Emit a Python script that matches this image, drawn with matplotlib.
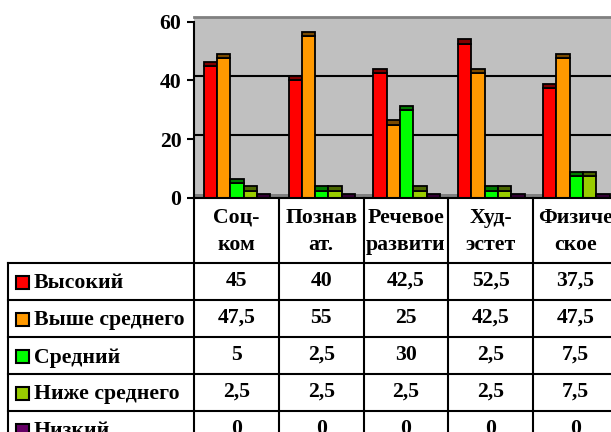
import matplotlib
matplotlib.use("Agg")
import matplotlib.pyplot as plt
from matplotlib.patches import Rectangle

categories_line1 = ["Соц-", "Познав", "Речевое", "Худ-", "Физиче"]
categories_line2 = ["ком", "ат.", "развити", "эстет", "ское"]
series_names = ["Высокий", "Выше среднего", "Средний", "Ниже среднего", "Низкий"]
values = [
    [45, 40, 42.5, 52.5, 37.5],
    [47.5, 55, 25, 42.5, 47.5],
    [5, 2.5, 30, 2.5, 7.5],
    [2.5, 2.5, 2.5, 2.5, 7.5],
    [0, 0, 0, 0, 0],
]
value_labels = [
    ["45", "40", "42,5", "52,5", "37,5"],
    ["47,5", "55", "25", "42,5", "47,5"],
    ["5", "2,5", "30", "2,5", "7,5"],
    ["2,5", "2,5", "2,5", "2,5", "7,5"],
    ["0", "0", "0", "0", "0"],
]
front_colors = ["#FF0000", "#FF9900", "#00FF00", "#99CC00", "#660066"]
cap_colors = ["#800000", "#7A4A00", "#007A00", "#4A6600", "#330033"]
yticks = [0, 20, 40, 60]

W, H = 611, 432
fig = plt.figure(figsize=(W / 100, H / 100), dpi=100)
FONT = dict(family="Liberation Serif", weight="bold", size=15.7)

# chart axes (pixel layout)
x_left, x_right = 194, 618
y_zero, y_top = 198, 21.7
ax = fig.add_axes([x_left / W, 1 - y_zero / H, (x_right - x_left) / W, (y_zero - y_top) / H])
ax.set_xlim(0, 5)
ax.set_ylim(0, 60)
ax.set_facecolor("none")
for s in ["top", "right", "bottom"]:
    ax.spines[s].set_visible(False)
ax.spines["left"].set_linewidth(1.5)
ax.spines["left"].set_zorder(10)
ax.set_xticks([])
ax.set_yticks(yticks)
ax.set_yticklabels([str(t) for t in yticks], fontdict=FONT)
ax.tick_params(axis="y", direction="out", length=5, width=1.5, pad=4)

d = 1.45  # 3D depth in data units
ax.add_patch(Rectangle((0, 0), 5, 60 + d, facecolor="#C0C0C0", edgecolor="none", zorder=0, clip_on=False))
ax.add_patch(Rectangle((0, 0), 5, d, facecolor="#808080", edgecolor="none", zorder=1, clip_on=False))
for g in [20, 40]:
    ax.plot([0, 5], [g + d, g + d], color="black", lw=1.5, zorder=2)
ax.plot([0, 5], [60 + d, 60 + d], color="#808080", lw=2, zorder=2, clip_on=False)

bw = 0.157
off = 0.115
for j, (vals, fc, cc) in enumerate(zip(values, front_colors, cap_colors)):
    for i, v in enumerate(vals):
        x0 = i + off + j * bw
        if v > 0:
            ax.add_patch(Rectangle((x0, 0), bw, v, facecolor=fc, edgecolor="black", lw=1.3, zorder=3))
        ax.add_patch(Rectangle((x0, v), bw, d, facecolor=cc, edgecolor="black", lw=1.3, zorder=3, clip_on=False))
ax.plot([0, 5], [0, 0], color="black", lw=1.5, zorder=9, clip_on=False)

# table overlay in pixel coordinates
tb = fig.add_axes([0, 0, 1, 1])
tb.set_xlim(0, W)
tb.set_ylim(H, 0)
tb.axis("off")
tb.set_facecolor("none")
colw = (x_right - x_left) / 5
lw = 1.5
for k in range(6):
    xk = x_left + k * colw
    tb.plot([xk, xk], [y_zero, H + 5], color="black", lw=lw, clip_on=False)
tb.plot([8, 8], [262.5, H + 5], color="black", lw=lw, clip_on=False)
row_top = 262.5
row_h = 37
for r in range(6):
    yr = row_top + r * row_h
    tb.plot([8, x_right], [yr, yr], color="black", lw=lw, clip_on=False)

for i in range(5):
    cx = x_left + (i + 0.5) * colw
    tb.text(cx, 223, categories_line1[i], ha="center", va="baseline", fontdict=FONT, clip_on=True)
    tb.text(cx, 250, categories_line2[i], ha="center", va="baseline", fontdict=FONT, clip_on=True)

for j in range(5):
    cy = row_top + (j + 0.5) * row_h
    tb.add_patch(Rectangle((15.5, cy - 5), 13, 13, facecolor=front_colors[j], edgecolor="black", lw=1.5))
    tb.text(34, cy + 2.5, series_names[j], ha="left", va="center", fontdict=FONT)
    for i in range(5):
        cx = x_left + (i + 0.5) * colw
        tb.text(cx, cy, value_labels[j][i], ha="center", va="center", fontdict=FONT)

fig.savefig("out.png", dpi=100)
